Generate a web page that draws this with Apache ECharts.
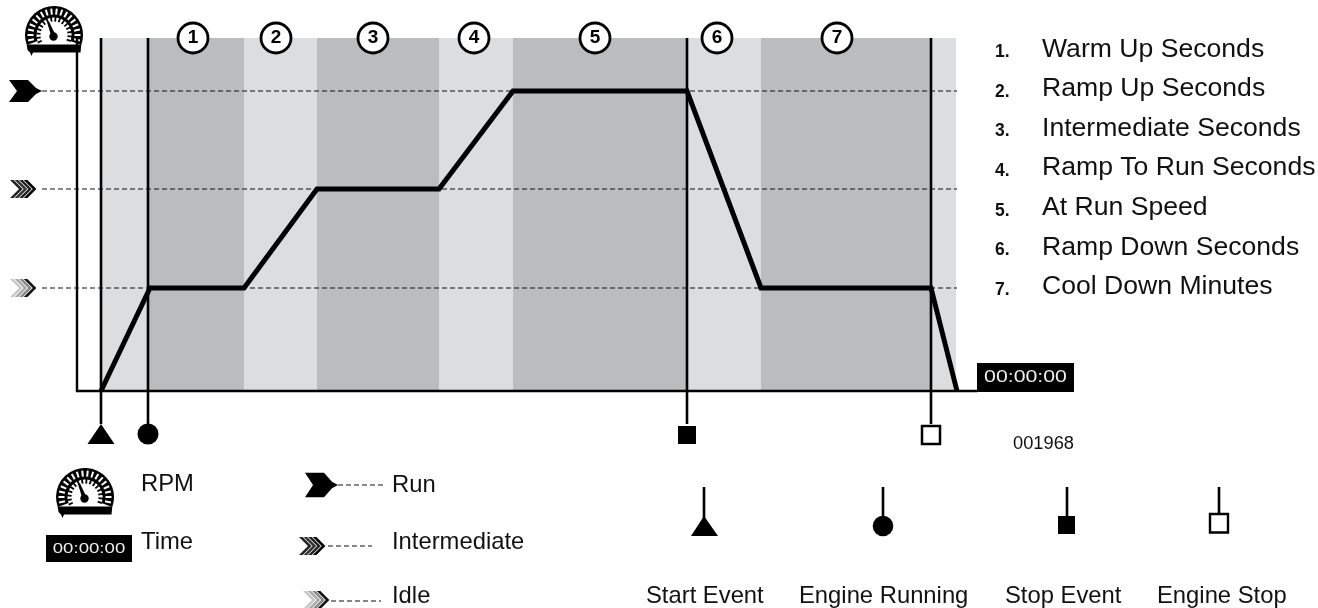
<!DOCTYPE html>
<html><head><meta charset="utf-8">
<style>html,body{margin:0;padding:0;background:#fff}#c{width:1318px;height:608px}</style>
<script src="https://cdn.jsdelivr.net/npm/echarts@6/dist/echarts.min.js"></script>
</head><body><div id="c"></div>
<script>
// ---- data (x = time units, y = RPM units) ----
const phaseEdges = [24, 71, 167, 240, 362, 436, 610, 684, 854, 879];
const phaseTones = [0, 1, 0, 1, 0, 1, 0, 1, 0];
const curveX = [24, 73, 167, 240, 362, 436, 610, 684, 854, 880];
const curveY = [0, 103, 103, 202, 202, 300, 300, 103, 103, 0];
const levelNames = ['Run', 'Intermediate', 'Idle'];
const levelValues = [300, 202, 103];
const eventNames = ['Start Event', 'Engine Running', 'Stop Event', 'Engine Stop'];
const eventX = [24, 71, 610, 854];
const phaseNumberX = [116, 199, 296, 397, 518, 640, 760];
const phaseNames = ['Warm Up Seconds', 'Ramp Up Seconds', 'Intermediate Seconds', 'Ramp To Run Seconds', 'At Run Speed', 'Ramp Down Seconds', 'Cool Down Minutes'];
const timerText = '00:00:00';
const figureId = '001968';

const bandColors = ['#DCDDDF', '#BBBCBE'];
const FONT = '"Liberation Sans", Arial, sans-serif';
const X_MAX = 900, Y_MAX = 353, EVENT_TOP = Y_MAX, EVENT_BOTTOM = -33;
const LEVEL_FROM = -35, LEVEL_TO = 880;

const bandData = phaseTones.map((t, i) => [phaseEdges[i], phaseEdges[i + 1], Y_MAX, t]);
const eventSymbols = [
  { symbol: 'triangle', symbolSize: [27, 20], fill: '#000', y: -43 },
  { symbol: 'circle', symbolSize: 21, fill: '#000', y: -43 },
  { symbol: 'rect', symbolSize: 18, fill: '#000', y: -44 },
  { symbol: 'rect', symbolSize: 18, fill: '#fff', y: -44, border: 2.5 }
];

const chart = echarts.init(document.getElementById('c'), null, { renderer: 'canvas', width: 1318, height: 608 });

const series = [];
series.push({
  type: 'custom', name: 'Phases', z: 1, clip: false, silent: true,
  encode: { x: [0, 1], y: 2 }, data: bandData,
  renderItem: (p, api) => {
    const a = api.coord([api.value(0), api.value(2)]);
    const b = api.coord([api.value(1), 0]);
    return { type: 'rect', shape: { x: a[0], y: a[1], width: b[0] - a[0], height: b[1] - a[1] },
      style: { fill: bandColors[api.value(3)] } };
  }
});
series.push({
  type: 'custom', name: 'Levels', z: 2, clip: false, silent: true,
  encode: { x: [0, 1], y: 2 },
  data: levelValues.map(v => [LEVEL_FROM, LEVEL_TO, v]),
  renderItem: (p, api) => {
    const a = api.coord([api.value(0), api.value(2)]);
    const b = api.coord([api.value(1), api.value(2)]);
    return { type: 'line', shape: { x1: a[0], y1: a[1], x2: b[0], y2: b[1] },
      style: { stroke: '#111', lineWidth: 1.2, lineDash: [5, 3] } };
  }
});
eventNames.forEach((n, i) => series.push({
  type: 'line', name: n, z: 4, clip: false, silent: true, symbol: 'none',
  data: [[eventX[i], EVENT_TOP], [eventX[i], EVENT_BOTTOM]],
  lineStyle: { color: '#000', width: 2.6 }
}));
series.push({
  type: 'scatter', name: 'Event markers', z: 5, clip: false, silent: true,
  data: eventNames.map((n, i) => ({
    value: [eventX[i], eventSymbols[i].y],
    symbol: eventSymbols[i].symbol, symbolSize: eventSymbols[i].symbolSize,
    itemStyle: { color: eventSymbols[i].fill, borderColor: '#000', borderWidth: eventSymbols[i].border || 0, opacity: 1 }
  }))
});
series.push({
  type: 'line', name: 'RPM', z: 6, clip: false, silent: true, symbol: 'none',
  data: curveX.map((x, i) => [x, curveY[i]]),
  lineStyle: { color: '#000', width: 5, join: 'miter', cap: 'butt' }
});
series.push({
  type: 'scatter', name: 'Phase numbers', z: 8, clip: false, silent: true,
  symbol: 'circle', symbolSize: 30,
  data: phaseNumberX.map((x, i) => ({ value: [x, Y_MAX], name: String(i + 1) })),
  itemStyle: { color: '#fff', borderColor: '#000', borderWidth: 2.8, opacity: 1 },
  label: { show: true, position: 'inside', formatter: '{b}', color: '#000', fontFamily: FONT, fontWeight: 'bold', fontSize: 19 }
});

chart.setOption({
  animation: false,
  backgroundColor: '#fff',
  grid: { left: 77, top: 38, width: X_MAX, height: Y_MAX, containLabel: false },
  tooltip: { show: false },
  xAxis: { type: 'value', min: 0, max: X_MAX, z: 7, splitLine: { show: false }, axisTick: { show: false }, axisLabel: { show: false },
    axisLine: { show: true, onZero: false, lineStyle: { color: '#000', width: 2.4 } } },
  yAxis: { type: 'value', min: 0, max: Y_MAX, z: 3, splitLine: { show: false }, axisTick: { show: false }, axisLabel: { show: false },
    axisLine: { show: true, onZero: false, lineStyle: { color: '#000', width: 2.4 } } },
  series
});

// ---- decorative icons and text ----
const rad = d => d * Math.PI / 180;
function gauge(x, y) {
  const kids = [
    { type: 'sector', shape: { cx: 0, cy: 0, r0: 0, r: 29, startAngle: rad(160), endAngle: rad(380), clockwise: true }, style: { fill: '#000' } },
    { type: 'polygon', shape: { points: [[-27.3, 9.5], [27.3, 9.5], [26.5, 17.5], [-21, 17.5], [-22.5, 21], [-24, 17.5], [-26.5, 15]] }, style: { fill: '#000' } }
  ];
  for (let a = 168; a <= 372; a += 12) {
    const c = Math.cos(rad(a)), s = Math.sin(rad(a));
    kids.push({ type: 'line', shape: { x1: 20.5 * c, y1: 20.5 * s, x2: 26.5 * c, y2: 26.5 * s }, style: { stroke: '#fff', lineWidth: 2 } });
  }
  kids.push({ type: 'sector', shape: { cx: 0, cy: 0, r0: 0, r: 17.5, startAngle: rad(155), endAngle: rad(385), clockwise: true }, style: { fill: '#fff' } });
  for (let a = 155; a <= 385; a += 15) {
    const c = Math.cos(rad(a)), s = Math.sin(rad(a));
    kids.push({ type: 'line', shape: { x1: 13.5 * c, y1: 13.5 * s, x2: 18 * c, y2: 18 * s }, style: { stroke: '#000', lineWidth: 1.8 } });
  }
  kids.push({ type: 'polygon', shape: { points: [[-7, -13], [-5, -13.5], [1.5, 0], [-2.5, 2]] }, style: { fill: '#000' } });
  kids.push({ type: 'circle', shape: { cx: -0.5, cy: 1.5, r: 4.2 }, style: { fill: '#000' } });
  return { type: 'group', x, y, z: 20, silent: true, children: kids };
}
function runArrow(x, y, sy) {
  return { type: 'polygon', z: 20, silent: true, x, y, scaleY: sy || 1,
    shape: { points: [[0, -11], [19, -11], [27, -3], [33, 0], [27, 3], [19, 11], [0, 11], [8, 0]] }, style: { fill: '#000' } };
}
function chevrons(x, y, colors) {
  const t = 3.6, step = 4.6;
  return { type: 'group', x, y, z: 20, silent: true, children: colors.map((col, i) => {
    const x0 = i * step;
    return { type: 'polygon', shape: { points: [[x0, -9], [x0 + t, -9], [x0 + t + 9, 0], [x0 + t, 9], [x0, 9], [x0 + 9, 0]] }, style: { fill: col } };
  }) };
}
const midColors = ['#222', '#333', '#222', '#000'];
const idleColors = ['#c8c8c8', '#aaa', '#888', '#111'];
function dashes(x1, x2, y) {
  return { type: 'line', z: 20, silent: true, shape: { x1, y1: y, x2, y2: y }, style: { stroke: '#111', lineWidth: 1.2, lineDash: [5, 3] } };
}
function txt(text, x, base, size, opt) {
  opt = opt || {};
  return { type: 'text', z: 21, silent: true, x, y: base - size * 0.345,
    style: { text, font: (opt.weight || 'normal') + ' ' + size + 'px ' + FONT, fill: opt.fill || '#111', verticalAlign: 'middle', align: opt.align || 'left' } };
}
function timer(x, y, w, h, size, sx) {
  return { type: 'group', x, y, z: 20, silent: true, children: [
    { type: 'rect', shape: { x: 0, y: 0, width: w, height: h }, style: { fill: '#000' } },
    { type: 'text', x: w / 2, y: h / 2 + 0.5, scaleX: sx, originX: 0, style: { text: timerText, font: size + 'px ' + FONT, fill: '#eee', align: 'center', verticalAlign: 'middle' } }
  ] };
}

const yPx = v => chart.convertToPixel({ gridIndex: 0 }, [0, v])[1];
const g = [];
g.push(gauge(54, 35), gauge(85, 497));
g.push(runArrow(9, yPx(levelValues[0])));
g.push(chevrons(10, yPx(levelValues[1]), midColors));
g.push(chevrons(10, yPx(levelValues[2]), idleColors));
g.push(timer(977, 363, 97, 29, 16, 1.33));
g.push(txt(figureId, 1013, 450, 18.3));

// phase list
phaseNames.forEach((n, i) => {
  const b = 58.5 + i * 39.6;
  g.push(txt((i + 1) + '.', 995, b, 17.5, { weight: 'bold' }));
  g.push(txt(n, 1042, b, 26.6));
});

// legend, left columns
g.push(txt('RPM', 141, 493, 23.8));
g.push(timer(46, 535, 86, 27, 14, 1.33));
g.push(txt('Time', 141, 551, 23.8));
g.push(runArrow(305, 485, 1.12), dashes(338, 385, 485));
g.push(txt(levelNames[0], 392, 494, 23.8));
g.push(chevrons(299, 546, midColors), dashes(328, 372, 546));
g.push(txt(levelNames[1], 392, 551, 23.8));
g.push(chevrons(303, 600, idleColors), dashes(331, 381, 601));
g.push(txt(levelNames[2], 392, 605, 23.8));

// legend, event column
const evLegendText = [646, 799, 1005, 1157];
const stem = (x, y2) => ({ type: 'line', z: 20, silent: true, shape: { x1: x, y1: 487, x2: x, y2 }, style: { stroke: '#000', lineWidth: 2.6 } });
g.push(stem(704, 520), { type: 'polygon', z: 20, silent: true, shape: { points: [[704, 516], [718, 536], [691, 536]] }, style: { fill: '#000' } });
g.push(stem(883, 518), { type: 'circle', z: 20, silent: true, shape: { cx: 883, cy: 526, r: 10.3 }, style: { fill: '#000' } });
g.push(stem(1067, 518), { type: 'rect', z: 20, silent: true, shape: { x: 1058, y: 516, width: 17, height: 18 }, style: { fill: '#000' } });
g.push(stem(1219, 514), { type: 'rect', z: 20, silent: true, shape: { x: 1210, y: 514, width: 18, height: 18.5 }, style: { fill: '#fff', stroke: '#000', lineWidth: 2.4 } });
eventNames.forEach((n, i) => g.push(txt(n, evLegendText[i], 605, 23.8)));

chart.setOption({ graphic: { elements: g } });
</script></body></html>
